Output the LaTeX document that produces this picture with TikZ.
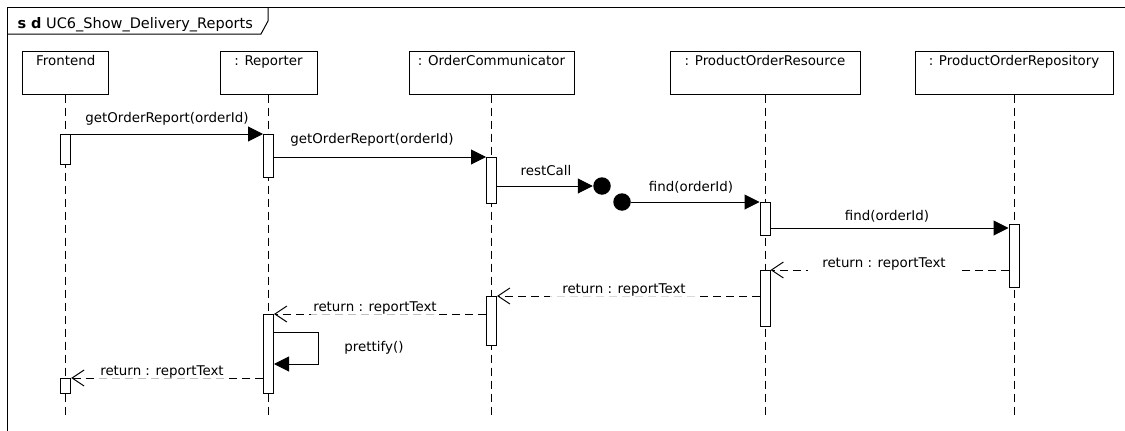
\documentclass[tikz,border=0pt]{standalone}
\usepackage{fontspec}
\setmainfont{DejaVu Sans}
\usetikzlibrary{arrows.meta,calc}
\begin{document}
\begin{tikzpicture}[x=1pt,y=-1pt, font=\fontsize{13.4}{16}\selectfont, line width=1pt,
 head/.style={draw, minimum width=#1, minimum height=42.5, inner sep=0, anchor=north},
 act/.style={draw, fill=white, minimum width=10, inner sep=0, anchor=north},
 life/.style={dash pattern=on 8pt off 5pt},
 msg/.style={-{Triangle[length=15pt,width=15pt]}},
 ret/.style={dash pattern=on 8pt off 5pt, -{Straight Barb[length=12pt,width=16pt]}},
 lbl/.style={anchor=base, inner sep=0},
 rlbl/.style={anchor=base, fill=white, inner xsep=14pt, inner ysep=4pt},
 rlblm/.style={anchor=base, fill=white, fill opacity=0.85, text opacity=1, inner xsep=12pt, inner ysep=4pt},
 rlblt/.style={anchor=base, fill=white, fill opacity=0.75, text opacity=1, inner xsep=2pt, inner ysep=1pt},
 dot/.style={circle, fill=black, minimum size=17.5, inner sep=0},
 htext/.style={anchor=north, inner sep=0, yshift=-4pt}]
\useasboundingbox (0,0) rectangle (1125,431);
\fill[white] (0,0) rectangle (1125,431);
% frame
\draw[line width=1.3pt] (7.5,431) -- (7.5,7.5) -- (1125,7.5);
\draw[line width=1pt] (7.5,34) -- (261,34) -- (268,21) -- (268,7.5);
\node[anchor=base west, inner sep=0, font=\fontsize{14.5}{17}\selectfont] (title) at (17,28) {\textbf{s d} UC6\_Show\_Delivery\_Reports};
\coordinate (bottom) at (0,418);
% heads
\node[head=86, label={[htext]north:Frontend}] (fe) at (65.7,51) {};
\node[head=97, label={[htext]north:: Reporter}] (re) at (268.5,51) {};
\node[head=165, label={[htext]north:: OrderCommunicator}] (oc) at (491.5,51) {};
\node[head=190, label={[htext]north:: ProductOrderResource}] (pr) at (765,51) {};
\node[head=198, label={[htext]north:: ProductOrderRepository}] (pq) at (1014,51) {};
% lifelines
\foreach \n in {fe,re,oc,pr,pq} \draw[life] (\n.south) -- (\n.south |- bottom);
% activations
\node[act, minimum height=30] (fa1) at (65.7,134) {};
\node[act, minimum height=43] (ra1) at (268.5,134) {};
\node[act, minimum height=46] (oa1) at (491.5,157) {};
\node[act, minimum height=33] (pa1) at (765,202) {};
\node[act, minimum height=63] (qa1) at (1014,224) {};
\node[act, minimum height=56] (pa2) at (765,270) {};
\node[act, minimum height=49] (oa2) at (491.5,296) {};
\node[act, minimum height=79] (ra2) at (268.5,314) {};
\node[act, minimum height=15] (fa2) at (65.7,378) {};
\coordinate (q1in) at ([yshift=-4pt]qa1.north west);
% lost / found
\node[dot] (lost) at (602,186) {};
\node[dot] (found) at (622,202) {};
% messages
\draw[msg] (fa1.north east) -- (ra1.north west);
\node[lbl] (l1) at (167,122) {getOrderReport(orderId)};
\draw[msg] (ra1.east |- oa1.north) -- (oa1.north west);
\node[lbl] (l2) at (372,143) {getOrderReport(orderId)};
\draw[msg] (oa1.east |- lost) -- (lost.west);
\node[lbl] (l3) at (546,175) {restCall};
\draw[msg] (found.east) -- (pa1.north west);
\node[lbl] (l4) at (691,191) {find(orderId)};
\draw[msg] (pa1.east |- q1in) -- (q1in);
\node[lbl] (l5) at (887,220) {find(orderId)};
% returns
\draw[ret] (qa1.west |- pa2.north) -- (pa2.north east);
\node[rlbl] (l6) at (884,267) {return : reportText};
\draw[ret] (pa2.west |- oa2.north) -- (oa2.north east);
\node[rlblm] (l7) at (624,293) {return : reportText};
\draw[ret] (oa2.west |- ra2.north) -- (ra2.north east);
\node[rlblt] (l8) at (375,311) {return : reportText};
\draw[msg] ([yshift=-18pt]ra2.north east) -- ++(44,0) -- ++(0,32) -- ([yshift=-50pt]ra2.north east);
\node[lbl] (l9) at (374,351) {prettify()};
\draw[ret] (ra2.west |- fa2.north) -- (fa2.north east);
\node[rlblt] (l10) at (162,375) {return : reportText};
\end{tikzpicture}
\end{document}
